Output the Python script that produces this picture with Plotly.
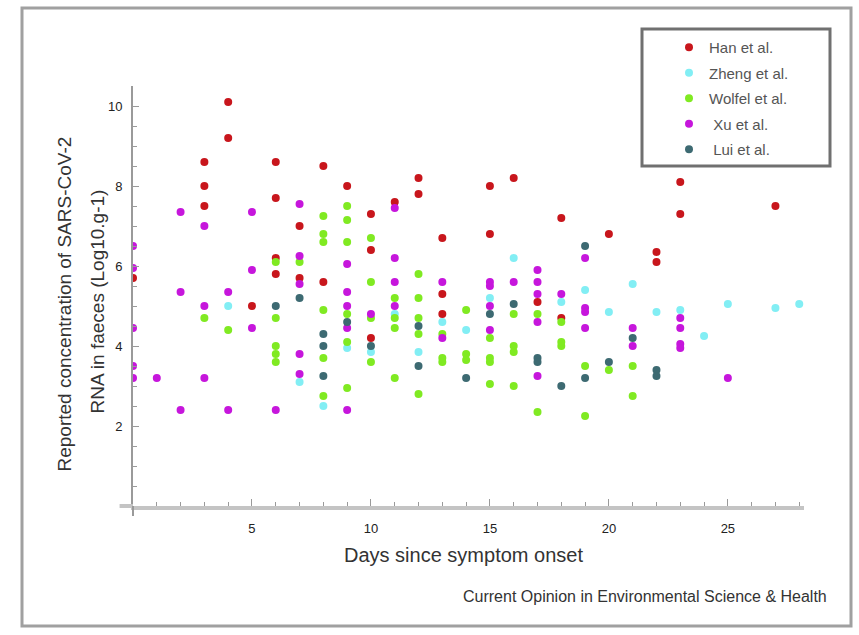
import plotly.graph_objects as go

series_names = ["Han et al.", "Zheng et al.", "Wolfel et al.", " Xu et al.", " Lui et al."]
series_colors = ["#c8161c", "#82eef4", "#80ea22", "#c616dc", "#3d6a72"]

han_day = [0, 3, 3, 3, 4, 4, 5, 6, 6, 6, 6, 7, 7, 8, 8, 9, 10, 10, 10, 11, 12, 12, 13, 13, 13,
           15, 15, 16, 17, 18, 18, 20, 22, 22, 23, 23, 27]
han_val = [5.7, 8.6, 8.0, 7.5, 10.1, 9.2, 5.0, 8.6, 7.7, 6.2, 5.8, 7.0, 5.7, 8.5, 5.6, 8.0, 7.3, 6.4, 4.2,
           7.6, 8.2, 7.8, 6.7, 5.3, 4.8, 8.0, 6.8, 8.2, 5.1, 7.2, 4.7, 6.8, 6.35, 6.1, 8.1, 7.3, 7.5]

zheng_day = [4, 7, 8, 9, 10, 11, 12, 13, 14, 15, 16, 18, 19, 20, 21, 22, 23, 24, 25, 27, 28]
zheng_val = [5.0, 3.1, 2.5, 3.95, 3.85, 4.8, 3.85, 4.6, 4.4, 5.2, 6.2, 5.1, 5.4, 4.85, 5.55, 4.85, 4.9,
             4.25, 5.05, 4.95, 5.05]

wolfel_day = [3, 4, 6, 6, 6, 6, 6, 7, 8, 8, 8, 8, 8, 8, 9, 9, 9, 9, 9, 9, 10, 10, 10, 10,
              11, 11, 11, 11, 12, 12, 12, 12, 12, 13, 13, 13, 14, 14, 14, 15, 15, 15, 15,
              16, 16, 16, 16, 17, 17, 18, 18, 18, 19, 19, 20, 21, 21]
wolfel_val = [4.7, 4.4, 6.1, 4.7, 4.0, 3.8, 3.6, 6.1, 7.25, 6.8, 6.6, 4.9, 3.7, 2.75, 7.5, 7.15, 6.6, 4.8,
              4.1, 2.95, 6.7, 5.6, 4.7, 3.6, 5.2, 4.7, 4.45, 3.2, 5.8, 5.2, 4.7, 4.3, 2.8, 4.3, 3.7, 3.6,
              4.9, 3.8, 3.65, 4.2, 3.7, 3.6, 3.05, 4.8, 4.0, 3.85, 3.0, 4.8, 2.35, 4.6, 4.1, 4.0, 3.5,
              2.25, 3.4, 3.5, 2.75]

xu_day = [0, 0, 0, 0, 0, 1, 2, 2, 2, 3, 3, 3, 4, 4, 5, 5, 5, 6, 7, 7, 7, 7, 7, 9, 9, 9, 9, 9,
          10, 11, 11, 11, 11, 13, 13, 15, 15, 15, 15, 16, 17, 17, 17, 17, 17, 18, 19, 19, 19, 19,
          21, 21, 23, 23, 23, 23, 25]
xu_val = [6.5, 5.95, 4.45, 3.5, 3.2, 3.2, 7.35, 5.35, 2.4, 7.0, 5.0, 3.2, 5.35, 2.4, 7.35, 5.9, 4.45, 2.4,
          7.55, 6.25, 5.55, 3.8, 3.3, 6.05, 5.35, 5.0, 4.45, 2.4, 4.8, 7.45, 6.2, 5.6, 5.0, 5.6, 4.2,
          5.6, 5.5, 5.0, 4.4, 5.6, 5.9, 5.6, 5.3, 4.6, 3.25, 5.3, 6.2, 4.95, 4.85, 4.45, 4.45, 4.0,
          4.7, 4.45, 4.05, 3.95, 3.2]

lui_day = [6, 7, 8, 8, 8, 9, 10, 12, 12, 14, 15, 16, 17, 17, 18, 19, 19, 20, 21, 22, 22]
lui_val = [5.0, 5.2, 4.3, 4.0, 3.25, 4.6, 4.0, 4.5, 3.5, 3.2, 4.8, 5.05, 3.7, 3.6, 3.0, 6.5, 3.2, 3.6,
           4.2, 3.4, 3.25]

x_ticks = [5, 10, 15, 20, 25]
y_ticks = [2, 4, 6, 8, 10]

all_days = [han_day, zheng_day, wolfel_day, xu_day, lui_day]
all_vals = [han_val, zheng_val, wolfel_val, xu_val, lui_val]

FONT = "Liberation Sans Narrow, Arial Narrow, Liberation Sans, sans-serif"

fig = go.Figure()
for name, color, d, v in zip(series_names, series_colors, all_days, all_vals):
    fig.add_trace(go.Scatter(x=d, y=v, mode="markers", name=name, legendgroup=name,
                             marker=dict(color=color, size=8, symbol="circle")))

axis_color = "#9a9a9a"
fig.update_layout(
    width=859, height=635,
    margin=dict(l=133, r=55, t=86, b=129),
    paper_bgcolor="white", plot_bgcolor="white",
    font=dict(family=FONT, color="#333333", size=12),
    showlegend=True,
    legend=dict(x=(669 - 133) / 671, y=(506 - 31) / 420, xanchor="left", yanchor="top",
                borderwidth=0, bgcolor="rgba(0,0,0,0)",
                font=dict(family=FONT, size=15, color="#555555"),
                tracegroupgap=3, itemwidth=30),
    xaxis=dict(range=[0, 28.2], showgrid=False, zeroline=False,
               showline=True, linecolor="#c4c4c4", linewidth=4,
               tickmode="array", tickvals=x_ticks, ticktext=[str(t) for t in x_ticks],
               ticks="inside", ticklen=7, tickcolor=axis_color, tickwidth=1,
               minor=dict(dtick=1, ticks="inside", ticklen=4, tickcolor=axis_color),
               tickfont=dict(family=FONT, size=13, color="#222222"),
               ticklabelstandoff=7),
    yaxis=dict(range=[0, 10.5], showgrid=False, zeroline=False,
               showline=True, linecolor=axis_color, linewidth=2,
               tickmode="array", tickvals=y_ticks, ticktext=[str(t) for t in y_ticks],
               ticks="inside", ticklen=6, tickcolor=axis_color, tickwidth=1,
               minor=dict(dtick=0.5, ticks="inside", ticklen=4, tickcolor=axis_color),
               tickfont=dict(family=FONT, size=13, color="#222222"),
               ticklabelstandoff=6),
)

# axis extensions, legend box and outer frame
fig.add_shape(type="line", xref="paper", yref="paper", x0=-0.02, x1=0, y0=0, y1=0,
              line=dict(color="#c4c4c4", width=4))
fig.add_shape(type="line", xref="paper", yref="paper", x0=0, x1=0, y0=-0.024, y1=0,
              line=dict(color=axis_color, width=2))
fig.add_shape(type="rect", xref="paper", yref="paper",
              x0=(642 - 133) / 671, x1=(830 - 133) / 671,
              y0=(506 - 166) / 420, y1=(506 - 29) / 420,
              line=dict(color="#707070", width=3))
fig.add_shape(type="rect", xref="paper", yref="paper",
              x0=(22 - 133) / 671, x1=(851 - 133) / 671,
              y0=(506 - 626) / 420, y1=(506 - 8) / 420,
              line=dict(color="#a0a0a0", width=3))

fig.add_annotation(text="Days since symptom onset", xref="paper", yref="paper",
                   x=(463 - 133) / 671, y=(506 - 568) / 420, showarrow=False,
                   font=dict(family=FONT, size=20, color="#333333"))
fig.add_annotation(text="Reported concentration of SARS-CoV-2", xref="paper", yref="paper",
                   x=(51 - 133) / 671, y=(506 - 304) / 420, showarrow=False, textangle=-90,
                   font=dict(family=FONT, size=19, color="#333333"))
fig.add_annotation(text="RNA in faeces (Log10.g-1)", xref="paper", yref="paper",
                   x=(84 - 133) / 671, y=(506 - 302) / 420, showarrow=False, textangle=-90,
                   font=dict(family=FONT, size=19, color="#333333"))
fig.add_annotation(text="Current Opinion in Environmental Science & Health", xref="paper", yref="paper",
                   x=(829 - 133) / 671, y=(506 - 607) / 420, xanchor="right", showarrow=False,
                   font=dict(family=FONT, size=16, color="#333333"))

fig.write_html("out.html")
